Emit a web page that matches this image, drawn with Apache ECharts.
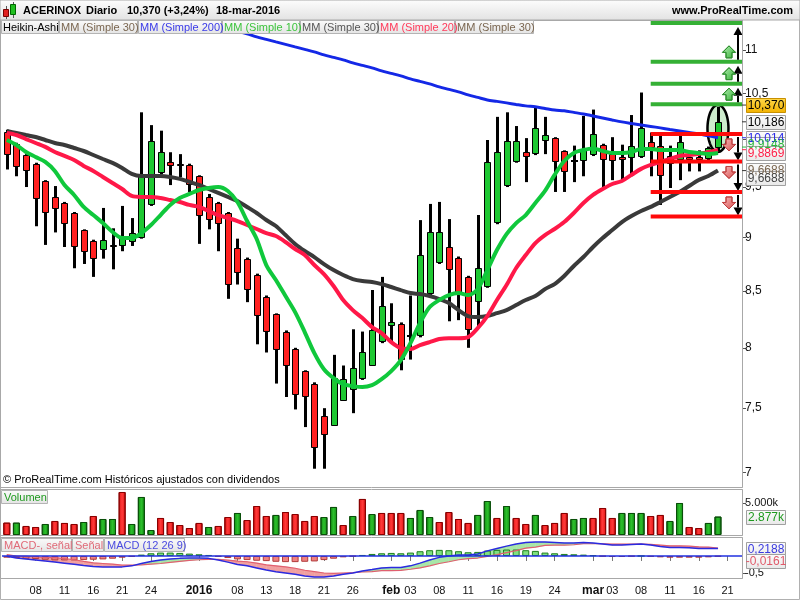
<!DOCTYPE html>
<html>
<head>
<meta charset="utf-8">
<script src="https://cdn.jsdelivr.net/npm/echarts@6.0.0/dist/echarts.min.js"></script>
<style>
html,body{margin:0;padding:0;background:#fff;}
#chart{width:800px;height:600px;}
</style>
</head>
<body>
<div id="chart"></div>
<script>
// ---------------- DATA ----------------
const dates = [
 '2015-12-03','2015-12-04','2015-12-07','2015-12-08','2015-12-09','2015-12-10','2015-12-11','2015-12-14','2015-12-15','2015-12-16',
 '2015-12-17','2015-12-18','2015-12-21','2015-12-22','2015-12-23','2015-12-24','2015-12-28','2015-12-29','2015-12-30','2015-12-31',
 '2016-01-04','2016-01-05','2016-01-06','2016-01-07','2016-01-08','2016-01-11','2016-01-12','2016-01-13','2016-01-14','2016-01-15',
 '2016-01-18','2016-01-19','2016-01-20','2016-01-21','2016-01-22','2016-01-25','2016-01-26','2016-01-27','2016-01-28','2016-01-29',
 '2016-02-01','2016-02-02','2016-02-03','2016-02-04','2016-02-05','2016-02-08','2016-02-09','2016-02-10','2016-02-11','2016-02-12',
 '2016-02-15','2016-02-16','2016-02-17','2016-02-18','2016-02-19','2016-02-22','2016-02-23','2016-02-24','2016-02-25','2016-02-26',
 '2016-02-29','2016-03-01','2016-03-02','2016-03-03','2016-03-04','2016-03-07','2016-03-08','2016-03-09','2016-03-10','2016-03-11',
 '2016-03-14','2016-03-15','2016-03-16','2016-03-17','2016-03-18','2016-03-21','2016-03-22'
];
const tickDates = ['2015-12-08','2015-12-11','2015-12-16','2015-12-21','2015-12-24','2016-01-04','2016-01-08','2016-01-13','2016-01-18','2016-01-21','2016-01-26','2016-02-01','2016-02-03','2016-02-08','2016-02-11','2016-02-16','2016-02-19','2016-02-24','2016-03-01','2016-03-03','2016-03-08','2016-03-11','2016-03-16','2016-03-21'];
const tickTexts = ['08','11','16','21','24','2016','08','13','18','21','26','feb','03','08','11','16','19','24','mar','03','08','11','16','21'];
const tickBold  = [0,0,0,0,0,1,0,0,0,0,0,1,0,0,0,0,0,0,1,0,0,0,0,0];

// Heikin-Ashi candles
const haOpen  = [10.08,9.95,9.83,9.74,9.56,9.40,9.34,9.24,9.07,8.97, 8.88,8.93,8.92,8.96,9.00,9.32,9.64,9.76,9.74,9.73, 9.61,9.40,9.34,9.24,8.90,8.80,8.65,8.45,8.29,8.14, 7.99,7.80,7.70,7.44,7.36,7.56,7.65,7.74,7.85,8.05, 8.19,8.21,8.10,8.10,8.47,8.76,8.91,8.81,8.63,8.40, 8.54,9.14,9.51,9.76,9.86,9.84,9.98,10.01,9.87,9.77, 9.77,9.83,9.94,9.84,9.81,9.80,9.81,9.97,9.93,9.82, 9.78,9.81,9.81,9.79,9.91];
const haClose = [9.83,9.71,9.66,9.38,9.24,9.28,9.13,8.91,8.86,8.80, 8.98,8.91,9.00,9.04,9.61,9.98,9.86,9.72,9.72,9.52, 9.21,9.17,9.13,8.56,8.67,8.51,8.28,8.14,7.98,7.85, 7.61,7.59,7.19,7.29,7.75,7.74,7.83,7.96,8.15,8.37, 8.22,7.90,8.10,8.83,9.05,9.05,8.69,8.48,8.15,8.71, 9.76,9.86,9.98,9.98,9.81,10.12,10.04,9.76,9.65,9.77, 9.88,10.05,9.78,9.77,9.78,9.93,10.12,9.91,9.61,9.74, 9.97,9.78,9.78,9.91,10.18];
const haLow   = [9.68,9.61,9.50,9.11,8.93,9.05,8.91,8.71,8.75,8.63, 8.80,8.70,8.87,8.92,8.99,9.31,9.63,9.52,9.60,9.45, 8.94,9.08,8.87,8.43,8.56,8.40,8.03,7.96,7.70,7.59, 7.49,7.35,7.03,7.03,7.36,7.56,7.46,7.73,7.85,8.04, 8.05,7.81,7.90,8.09,8.46,8.75,8.23,8.24,8.00,8.17, 8.53,9.13,9.50,9.75,9.55,9.83,9.84,9.45,9.45,9.55, 9.61,9.82,9.49,9.57,9.56,9.61,9.80,9.61,9.32,9.49, 9.57,9.66,9.66,9.76,9.87];
const haHigh  = [10.10,9.96,9.84,9.75,9.57,9.51,9.35,9.25,9.08,8.98, 9.29,9.09,9.31,9.19,10.29,10.15,10.09,9.86,9.84,9.74, 9.62,9.43,9.35,9.25,8.99,8.81,8.66,8.46,8.30,8.15, 8.00,7.81,7.71,7.50,7.94,7.85,8.16,8.14,8.51,8.63, 8.39,8.22,8.46,9.17,9.33,9.35,9.18,8.82,8.64,9.22, 9.99,10.24,10.29,10.14,10.01,10.35,10.24,10.02,9.88,9.93, 10.25,10.32,9.95,10.02,9.94,10.26,10.51,10.07,10.06,9.93, 10.09,9.82,9.88,9.92,10.35];

// Moving averages
const ma10 = [9.990,9.937,9.863,9.810,9.758,9.665,9.521,9.420,9.300,9.220, 9.141,9.054,8.996,8.996,9.044,9.122,9.220,9.320,9.389,9.430, 9.470,9.490,9.500,9.460,9.349,9.161,8.987,8.740,8.601,8.455, 8.311,8.136,7.955,7.819,7.745,7.695,7.679,7.671,7.687,7.736, 7.803,7.895,8.040,8.215,8.356,8.419,8.464,8.482,8.464,8.518, 8.693,8.881,9.034,9.141,9.220,9.339,9.460,9.624,9.768,9.852, 9.884,9.900,9.873,9.852,9.852,9.863,9.895,9.895,9.884,9.884, 9.884,9.863,9.852,9.842,9.852];
const ma20 = [10.065,10.043,10.000,9.958,9.916,9.863,9.821,9.779,9.717,9.665, 9.603,9.541,9.480,9.410,9.400,9.400,9.389,9.369,9.349,9.320, 9.300,9.260,9.220,9.191,9.161,9.122,9.083,9.044,9.015,8.958, 8.891,8.834,8.740,8.656,8.546,8.419,8.329,8.258,8.179,8.127, 8.049,7.997,7.989,8.023,8.049,8.075,8.083,8.083,8.092,8.170, 8.276,8.419,8.555,8.712,8.834,8.948,9.025,9.083,9.151,9.240, 9.339,9.420,9.480,9.531,9.562,9.624,9.686,9.727,9.758,9.789, 9.821,9.831,9.842,9.863,9.884];
const ma30 = [10.087,10.065,10.043,10.022,9.990,9.958,9.937,9.905,9.873,9.831, 9.789,9.748,9.696,9.634,9.613,9.613,9.613,9.603,9.583,9.552, 9.521,9.480,9.440,9.400,9.359,9.300,9.240,9.171,9.112,9.025, 8.939,8.872,8.815,8.749,8.693,8.647,8.610,8.592,8.583,8.564, 8.537,8.509,8.482,8.473,8.455,8.428,8.392,8.329,8.276,8.267, 8.276,8.302,8.329,8.374,8.419,8.455,8.518,8.564,8.638,8.731, 8.815,8.910,8.996,9.073,9.151,9.210,9.260,9.300,9.349,9.400, 9.450,9.511,9.572,9.613,9.669];
const ma200 = [null,null,null,null,null,null,null,null,null,null, null,null,null,null,null,null,null,null,null,null,
 11.346,11.310,11.280,11.250,11.220,11.190,11.154,11.124,11.094,11.065, 11.035,11.006,10.976,10.941,10.912,10.883,10.848,10.819,10.790,10.756,
 10.727,10.698,10.664,10.636,10.607,10.573,10.545,10.517,10.483,10.455, 10.427,10.411,10.394,10.377,10.361,10.350,10.333,10.316,10.306,10.289,
 10.272,10.250,10.228,10.206,10.185,10.168,10.152,10.136,10.120,10.103, 10.087,10.071,10.055,10.035,10.014];

// Volume (thousands) and direction (1 = up/green)
const volume = [1930,1930,1410,1250,1720,2190,1880,1720,2030,2970, 2500,2500,6720,1720,5940,780,2660,2030,1560,1090, 1880,1250,1410,2810,3440,2340,4530,2970,3130,3590, 3280,2190,2970,2810,4380,1560,2970,5630,3280,3440, 3440,3440,2660,3910,2810,2030,3590,2500,1880,3130, 5310,2660,4530,2660,1720,3130,1560,1880,3440,2500, 2660,2660,4220,2660,3440,3440,3440,2970,3130,2190, 5000,1250,1090,1880,2877];
const volUp  = [0,1,0,0,1,0,0,0,1,0, 1,1,0,1,1,1,0,0,0,0, 0,1,0,0,1,0,0,0,1,0, 0,0,0,1,1,0,1,0,1,0, 0,0,1,1,1,0,0,0,0,1, 1,0,1,0,0,1,0,0,0,1, 1,0,0,0,1,1,1,0,0,1, 1,0,0,1,1];

// MACD (12 26 9)
const macdLine = [-0.01,-0.06,-0.09,-0.12,-0.15,-0.18,-0.21,-0.24,-0.28,-0.31, -0.32,-0.32,-0.32,-0.29,-0.22,-0.16,-0.12,-0.09,-0.07,-0.06, -0.06,-0.07,-0.12,-0.18,-0.25,-0.29,-0.35,-0.41,-0.46,-0.50, -0.54,-0.59,-0.62,-0.62,-0.59,-0.54,-0.50,-0.44,-0.40,-0.35, -0.34,-0.34,-0.29,-0.21,-0.12,-0.04,0.00,0.03,0.03,0.06, 0.15,0.22,0.29,0.35,0.40,0.41,0.41,0.40,0.38,0.38, 0.40,0.38,0.35,0.32,0.32,0.34,0.35,0.32,0.28,0.25, 0.25,0.24,0.22,0.22,0.2188];
const signalLine = [0.04,0.00,-0.01,-0.03,-0.04,-0.05,-0.08,-0.11,-0.16,-0.20, -0.22,-0.24,-0.27,-0.27,-0.26,-0.24,-0.22,-0.19,-0.16,-0.13, -0.11,-0.10,-0.10,-0.12,-0.15,-0.17,-0.21,-0.26,-0.29,-0.32, -0.36,-0.42,-0.46,-0.50,-0.51,-0.50,-0.49,-0.47,-0.46,-0.43, -0.43,-0.42,-0.39,-0.35,-0.29,-0.22,-0.17,-0.11,-0.08,-0.06, -0.01,0.04,0.10,0.16,0.23,0.26,0.31,0.32,0.32,0.33, 0.36,0.36,0.36,0.35,0.35,0.35,0.35,0.34,0.32,0.30, 0.30,0.29,0.27,0.26,0.235];
const macdHist = [-0.05,-0.06,-0.08,-0.09,-0.11,-0.13,-0.13,-0.13,-0.12,-0.11, -0.10,-0.08,-0.05,-0.02,0.04,0.08,0.10,0.10,0.09,0.07, 0.05,0.03,-0.02,-0.06,-0.10,-0.12,-0.14,-0.15,-0.17,-0.18, -0.18,-0.17,-0.16,-0.12,-0.08,-0.04,-0.01,0.03,0.06,0.08, 0.09,0.08,0.10,0.14,0.17,0.18,0.17,0.14,0.11,0.12, 0.16,0.18,0.19,0.19,0.17,0.15,0.10,0.08,0.06,0.05, 0.04,0.02,-0.01,-0.03,-0.03,-0.01,0.00,-0.02,-0.04,-0.05, -0.05,-0.05,-0.05,-0.04,-0.0161];

// Drawn support/resistance levels, starting on this date
const greenLevels = [11.32, 10.86, 10.61, 10.38];
const redLevels   = [10.055, 9.763, 9.45, 9.206];
const levelFrom = '2016-03-09';
const circleDate = '2016-03-18';
const circleCenter = 10.114;

// Price-axis ticks and last-value tags
const priceTicks = [7, 7.5, 8, 8.5, 9, 9.5, 10, 10.5, 11];
const volTicks = [5000];
const macdTicks = [-0.5];
const lastTexts  = ['10,370','10,186','10,014','9,9148','9,8869','9,6688','9,6688'];
const lastValues = [10.370, 10.186, 10.014, 9.9148, 9.8869, 9.6688, 9.6688];
const volLastText = '2.877k', volLastValue = 2877;
const macdLastTexts = ['0,2188','-0,0161'];
const macdLastValues = [0.2188, -0.0161];

// ---------------- CHART ----------------
const F = "'Liberation Sans', Arial, Helvetica, sans-serif";
const ln = Math.log;
const fmtComma = v => String(Math.round(v * 100) / 100).replace('.', ',');

const chart = echarts.init(document.getElementById('chart'), null, {renderer: 'canvas'});

const candleData = haOpen.map((o, i) => [i, ln(o), ln(haClose[i]), ln(haLow[i]), ln(haHigh[i])]);

function renderCandle(params, api) {
  const i = api.value(0);
  const o = api.value(1), c = api.value(2);
  const pO = api.coord([i, o]), pC = api.coord([i, c]);
  const pL = api.coord([i, api.value(3)]), pH = api.coord([i, api.value(4)]);
  const x = Math.round(pO[0]);
  const top = Math.round(Math.min(pO[1], pC[1]));
  const bot = Math.round(Math.max(pO[1], pC[1]));
  const children = [{type: 'rect', shape: {x: x - 1, y: pH[1], width: 3, height: Math.max(pL[1] - pH[1], 1)}, style: {fill: '#000'}}];
  if (Math.abs(c - o) < 1e-9) {
    children.push({type: 'rect', shape: {x: x - 3, y: top - 1, width: 7, height: 2}, style: {fill: '#000'}});
  } else {
    const h = Math.max(bot - top, 2);
    children.push({type: 'rect', shape: {x: x - 2.5, y: top + 0.5, width: 6, height: h - 1},
      style: {fill: c > o ? '#1ec832' : '#ff2020', stroke: '#000', lineWidth: 1}});
  }
  return {type: 'group', children};
}

const levelData = greenLevels.map((v, k) => [ln(v), 0, k]).concat(redLevels.map((v, k) => [ln(v), 1, k]));
const levelFromIdx = dates.indexOf(levelFrom);

function fatArrow(cx, yTop, up, fill, stroke) {
  const h = 12, hw = 6.5, sw = 3, hh = 6.5;
  let pts;
  if (up) pts = [[cx, yTop], [cx + hw, yTop + hh], [cx + sw, yTop + hh], [cx + sw, yTop + h], [cx - sw, yTop + h], [cx - sw, yTop + hh], [cx - hw, yTop + hh]];
  else pts = [[cx, yTop + h], [cx + hw, yTop + h - hh], [cx + sw, yTop + h - hh], [cx + sw, yTop], [cx - sw, yTop], [cx - sw, yTop + h - hh], [cx - hw, yTop + h - hh]];
  return {type: 'polygon', shape: {points: pts}, style: {fill: fill, stroke: stroke, lineWidth: 1}};
}
function blackArrow(x, yTail, yTip) {
  const dir = yTip < yTail ? 1 : -1; // 1 = pointing up
  const headBase = yTip + dir * 8;
  return [
    {type: 'rect', shape: {x: x - 1, y: Math.min(yTail, headBase), width: 2, height: Math.abs(yTail - headBase)}, style: {fill: '#000'}},
    {type: 'polygon', shape: {points: [[x, yTip], [x - 4.5, headBase], [x + 4.5, headBase]]}, style: {fill: '#000'}}
  ];
}

function renderLevel(params, api) {
  const v = api.value(0), kind = api.value(1), k = api.value(2);
  const cs = params.coordSys;
  const p = api.coord([levelFromIdx, v]);
  const x1 = p[0], x2 = cs.x + cs.width, y = p[1];
  const children = [{type: 'rect', shape: {x: x1, y: y - 2, width: x2 - x1, height: 4}, style: {fill: kind === 0 ? '#35b035' : '#ff0a0a'}}];
  const ax = x2 - 4, fx = x2 - 13;
  if (kind === 0 && k > 0) {
    const y0 = api.coord([levelFromIdx, ln(greenLevels[k - 1])])[1];
    children.push(...blackArrow(ax, y - 2, y0 + 4));
    children.push(fatArrow(fx, y - 16, true,
      new echarts.graphic.LinearGradient(0, 0, 1, 1, [{offset: 0, color: '#b8f0b8'}, {offset: 1, color: '#2fae2f'}]), '#2f8f2f'));
  }
  if (kind === 1 && k < redLevels.length - 1) {
    const y1 = api.coord([levelFromIdx, ln(redLevels[k + 1])])[1];
    children.push(...blackArrow(ax, y + 3, y1 - 1));
    children.push(fatArrow(fx, y + 5, false,
      new echarts.graphic.LinearGradient(0, 0, 1, 1, [{offset: 0, color: '#f8c0c0'}, {offset: 1, color: '#d84a4a'}]), '#c04040'));
  }
  return {type: 'group', children};
}

function renderEllipse(params, api) {
  const p = api.coord([api.value(0), api.value(1)]);
  const rx = 10.5, ry = 23.5, pts = [];
  for (let a = 0; a < 64; a++) {
    const t = a / 64 * Math.PI * 2;
    pts.push([p[0] + rx * Math.cos(t), p[1] + ry * Math.sin(t)]);
  }
  return {type: 'polygon', shape: {points: pts}, style: {fill: '#cdeccd', stroke: '#000', lineWidth: 2.5}};
}

const fillData = macdLine.slice(0, -1).map((m, i) => [i, m, signalLine[i], macdLine[i + 1], signalLine[i + 1]]);
function renderFill(params, api) {
  const i = api.value(0);
  const m1 = api.value(1), s1 = api.value(2), m2 = api.value(3), s2 = api.value(4);
  const A1 = api.coord([i, m1]), A2 = api.coord([i + 1, m2]);
  const B1 = api.coord([i, s1]), B2 = api.coord([i + 1, s2]);
  const d1 = m1 - s1, d2 = m2 - s2;
  const col = d => d >= 0 ? '#a8e6a8' : '#f0a0a0';
  if (d1 * d2 < 0) {
    const t = d1 / (d1 - d2);
    const P = [A1[0] + (A2[0] - A1[0]) * t, A1[1] + (A2[1] - A1[1]) * t];
    return {type: 'group', children: [
      {type: 'polygon', shape: {points: [A1, P, B1]}, style: {fill: col(d1), stroke: col(d1), lineWidth: 0.5}},
      {type: 'polygon', shape: {points: [P, A2, B2]}, style: {fill: col(d2), stroke: col(d2), lineWidth: 0.5}}
    ]};
  }
  const c = col(d1 + d2);
  return {type: 'polygon', shape: {points: [A1, A2, B2, B1]}, style: {fill: c, stroke: c, lineWidth: 0.5}};
}

const catAxis = (gi, show) => ({
  type: 'category', gridIndex: gi, data: dates, boundaryGap: true,
  axisLine: {show: false}, splitLine: {show: false},
  axisTick: show ? {show: true, interval: (i, v) => tickDates.indexOf(v) >= 0, alignWithLabel: true, length: 5, lineStyle: {color: '#777'}} : {show: false},
  axisLabel: show ? {
    show: true, interval: (i, v) => tickDates.indexOf(v) >= 0, margin: 7,
    color: '#111', fontSize: 11, fontFamily: F,
    formatter: v => { const k = tickDates.indexOf(v); return tickBold[k] ? '{b|' + tickTexts[k] + '}' : tickTexts[k]; },
    rich: {b: {fontWeight: 'bold', fontSize: 12, fontFamily: F, color: '#111'}}
  } : {show: false}
});

const lineSeries = (data, color, width, z) => ({
  type: 'line', xAxisIndex: 0, yAxisIndex: 0, data: data.map(v => v == null ? null : ln(v)),
  symbol: 'none', smooth: 0.3, lineStyle: {color, width}, z, silent: true
});

chart.setOption({
  animation: false,
  backgroundColor: '#fff',
  grid: [
    {left: 2, right: 58, top: 20, height: 467},
    {left: 2, right: 58, top: 490, height: 45},
    {left: 2, right: 58, top: 538, height: 40}
  ],
  xAxis: [catAxis(0, false), catAxis(1, false), catAxis(2, true)],
  yAxis: [
    {type: 'value', gridIndex: 0, position: 'right', min: ln(6.894), max: ln(11.357),
      axisLine: {show: true, lineStyle: {color: '#a8a8a8'}}, splitLine: {show: false},
      axisTick: {show: true, customValues: priceTicks.map(ln), length: 4, lineStyle: {color: '#555'}},
      axisLabel: {customValues: priceTicks.map(ln), formatter: v => fmtComma(Math.exp(v)), color: '#111', fontSize: 12, fontFamily: F, margin: 3}},
    {type: 'value', gridIndex: 1, position: 'right', min: 0, max: 7031,
      axisLine: {show: true, lineStyle: {color: '#a8a8a8'}}, splitLine: {show: false},
      axisTick: {show: true, customValues: volTicks, length: 4, lineStyle: {color: '#555'}},
      axisLabel: {customValues: volTicks, formatter: v => v.toLocaleString('de-DE') + 'k', color: '#111', fontSize: 11, fontFamily: F, margin: 3}},
    {type: 'value', gridIndex: 2, position: 'right', min: -0.647, max: 0.529,
      axisLine: {show: true, lineStyle: {color: '#a8a8a8'}}, splitLine: {show: false},
      axisTick: {show: true, customValues: macdTicks, length: 4, lineStyle: {color: '#555'}},
      axisLabel: {customValues: macdTicks, formatter: v => fmtComma(v), color: '#111', fontSize: 11, fontFamily: F, margin: 3}}
  ],
  series: [
    {type: 'custom', name: 'circle', xAxisIndex: 0, yAxisIndex: 0, z: 1, silent: true, clip: true,
      data: [[dates.indexOf(circleDate), ln(circleCenter)]], encode: {x: 0, y: 1}, renderItem: renderEllipse},
    {type: 'custom', name: 'Heikin-Ashi', xAxisIndex: 0, yAxisIndex: 0, z: 2, silent: true, clip: true,
      data: candleData, encode: {x: 0, y: [1, 2, 3, 4]}, renderItem: renderCandle},
    lineSeries(ma200, '#1428e6', 3, 3),
    lineSeries(ma30, '#3a3a3a', 4, 3),
    lineSeries(ma20, '#ff1848', 4, 3),
    lineSeries(ma10, '#10c83c', 4, 3),
    {type: 'custom', name: 'levels', xAxisIndex: 0, yAxisIndex: 0, z: 5, silent: true, clip: false,
      data: levelData, encode: {y: 0}, renderItem: renderLevel},
    {type: 'bar', name: 'Volumen', xAxisIndex: 1, yAxisIndex: 1, barWidth: 7, silent: true,
      data: volume.map((v, i) => ({value: v, itemStyle: volUp[i]
        ? {color: new echarts.graphic.LinearGradient(0, 0, 1, 0, [{offset: 0, color: '#138a13'}, {offset: 0.5, color: '#2cc02c'}, {offset: 1, color: '#138a13'}]), borderColor: '#0a4f0a', borderWidth: 1}
        : {color: new echarts.graphic.LinearGradient(0, 0, 1, 0, [{offset: 0, color: '#e01010'}, {offset: 0.5, color: '#ff3a3a'}, {offset: 1, color: '#e01010'}]), borderColor: '#8a0000', borderWidth: 1}}))},
    {type: 'custom', name: 'macdFill', xAxisIndex: 2, yAxisIndex: 2, z: 1, silent: true,
      data: fillData, encode: {x: 0, y: [1, 2]}, renderItem: renderFill},
    {type: 'bar', name: 'MACD-, señal', xAxisIndex: 2, yAxisIndex: 2, barWidth: 7, z: 2, silent: true,
      data: macdHist.map(v => ({value: v, itemStyle: v >= 0
        ? {color: '#7fe07f', borderColor: '#1f7f1f', borderWidth: 1}
        : {color: '#ef8282', borderColor: '#b03a3a', borderWidth: 1}})),
      markLine: {silent: true, symbol: ['none', 'none'], label: {show: false},
        lineStyle: {color: '#2030e0', width: 1.5, type: 'solid'}, data: [{yAxis: 0}]}},
    {type: 'line', name: 'Señal', xAxisIndex: 2, yAxisIndex: 2, data: signalLine, symbol: 'none', z: 3, silent: true,
      lineStyle: {color: '#e06070', width: 1.2}},
    {type: 'line', name: 'MACD', xAxisIndex: 2, yAxisIndex: 2, data: macdLine, symbol: 'none', z: 3, silent: true,
      lineStyle: {color: '#2a2ae0', width: 1.5}}
  ]
});

// ---------------- DECORATION (header, legends, tags) ----------------
const g = [];
const Z = 100;
const btnFill = new echarts.graphic.LinearGradient(0, 0, 0, 1, [{offset: 0, color: '#fbfbfb'}, {offset: 1, color: '#e4e4e4'}]);
[[0.5, 20.5, 742, 467], [0.5, 489.5, 742, 46], [0.5, 537.5, 742, 41]].forEach(r =>
  g.push({type: 'rect', z: Z - 10, shape: {x: r[0], y: r[1], width: r[2], height: r[3]}, style: {fill: null, stroke: '#a8a8a8', lineWidth: 1}}));
g.push({type: 'rect', z: Z, shape: {x: 0, y: 0, width: 800, height: 20},
  style: {fill: new echarts.graphic.LinearGradient(0, 0, 0, 1, [{offset: 0, color: '#fdfdfd'}, {offset: 1, color: '#e2e2e2'}]), stroke: '#a8a8a8', lineWidth: 1}});
g.push({type: 'rect', z: Z - 20, shape: {x: 0.5, y: 0.5, width: 799, height: 599}, style: {fill: null, stroke: '#b0b0b0', lineWidth: 1}});
g.push({type: 'rect', z: Z + 1, shape: {x: 6, y: 6, width: 1, height: 13}, style: {fill: '#555'}});
g.push({type: 'rect', z: Z + 1, shape: {x: 3.5, y: 9.5, width: 5, height: 7}, style: {fill: '#e02020', stroke: '#700', lineWidth: 1}});
g.push({type: 'rect', z: Z + 1, shape: {x: 13, y: 2, width: 1, height: 16}, style: {fill: '#555'}});
g.push({type: 'rect', z: Z + 1, shape: {x: 10.5, y: 4.5, width: 5, height: 10}, style: {fill: '#20c020', stroke: '#060', lineWidth: 1}});
const title = [['ACERINOX', 23], ['Diario', 86], ['10,370 (+3,24%)', 127], ['18-mar-2016', 216]];
title.forEach(t => g.push({type: 'text', z: Z + 1, x: t[1], y: 11, style: {text: t[0], font: 'bold 11px ' + F, fill: '#000', textVerticalAlign: 'middle'}}));
g.push({type: 'text', z: Z + 1, x: 793, y: 11, style: {text: 'www.ProRealTime.com', font: 'bold 11px ' + F, fill: '#000', textAlign: 'right', textVerticalAlign: 'middle'}});
const buttons = [['Heikin-Ashi', 1, 57, '#000'], ['MM (Simple 30)', 59, 78, '#7a6650'], ['MM (Simple 200)', 138, 83, '#3a3ae8'],
  ['MM (Simple 10)', 222, 77, '#3cc43c'], ['MM (Simple 30)', 300, 77, '#555'], ['MM (Simple 20)', 378, 76, '#ff3a5a'], ['MM (Simple 30)', 455, 78, '#7a6650']];
buttons.forEach(b => {
  g.push({type: 'rect', z: Z, shape: {x: b[1] + 0.5, y: 20.5, width: b[2], height: 13}, style: {fill: btnFill, stroke: '#b4b4b4', lineWidth: 1}});
  g.push({type: 'text', z: Z + 1, x: b[1] + 2, y: 27.5, style: {text: b[0], font: '11px ' + F, fill: b[3], textVerticalAlign: 'middle'}});
});
g.push({type: 'text', z: Z, x: 3, y: 480, style: {text: '© ProRealTime.com Históricos ajustados con dividendos', font: '11px ' + F, fill: '#000', textVerticalAlign: 'middle'}});
const small = [['Volumen', 1, 490, 46, '#1f9a1f'], ['MACD-, señal', 1, 538, 70, '#e06a78'], ['Señal', 72, 538, 31, '#e06a78'], ['MACD (12 26 9)', 104, 538, 80, '#4a4ae0']];
small.forEach(b => {
  g.push({type: 'rect', z: Z, shape: {x: b[1] + 0.5, y: b[2] + 0.5, width: b[3], height: 13}, style: {fill: btnFill, stroke: '#b4b4b4', lineWidth: 1}});
  g.push({type: 'text', z: Z + 1, x: b[1] + 3, y: b[2] + 7.5, style: {text: b[0], font: '11px ' + F, fill: b[4], textVerticalAlign: 'middle'}});
});
function tag(y, text, color, gold) {
  const fill = gold
    ? new echarts.graphic.LinearGradient(0, 0, 0, 1, [{offset: 0, color: '#ffd84a'}, {offset: 1, color: '#f2b200'}])
    : new echarts.graphic.LinearGradient(0, 0, 0, 1, [{offset: 0, color: '#fdfdfd'}, {offset: 1, color: '#e8e8e8'}]);
  g.push({type: 'rect', z: Z + 2, shape: {x: 746.5, y: Math.round(y) - 6.5, width: 39, height: 14}, style: {fill, stroke: gold ? '#c89000' : '#a0a0a0', lineWidth: 1}});
  g.push({type: 'text', z: Z + 3, x: 766, y: Math.round(y) + 0.5, style: {text, font: '12px ' + F, fill: color, textAlign: 'center', textVerticalAlign: 'middle'}});
}
const tagColors = ['#000', '#000', '#2a2ae8', '#2cb83c', '#ff2048', '#7a6650', '#444'];
const tagNudge  = [0, 0, 0, -3.5, 3.7, -1, 7];
const tagTickY = lastValues.map(v => chart.convertToPixel({yAxisIndex: 0}, ln(v)));
tagTickY.forEach((y, k) => g.push({type: 'rect', z: Z + 1, shape: {x: 742, y: y - 0.5, width: 5, height: 1}, style: {fill: tagColors[k] === '#000' ? '#333' : tagColors[k]}}));
lastTexts.forEach((t, k) => tag(tagTickY[k] + tagNudge[k], t, tagColors[k], k === 0));
tag(chart.convertToPixel({yAxisIndex: 1}, volLastValue), volLastText, '#1f9a1f', false);
const macdColors = ['#3a3ae0', '#e05a6a'], macdNudge = [0, 4];
macdLastTexts.forEach((t, k) => tag(chart.convertToPixel({yAxisIndex: 2}, macdLastValues[k]) + macdNudge[k], t, macdColors[k], false));

chart.setOption({graphic: {elements: g}});
</script>
</body>
</html>
